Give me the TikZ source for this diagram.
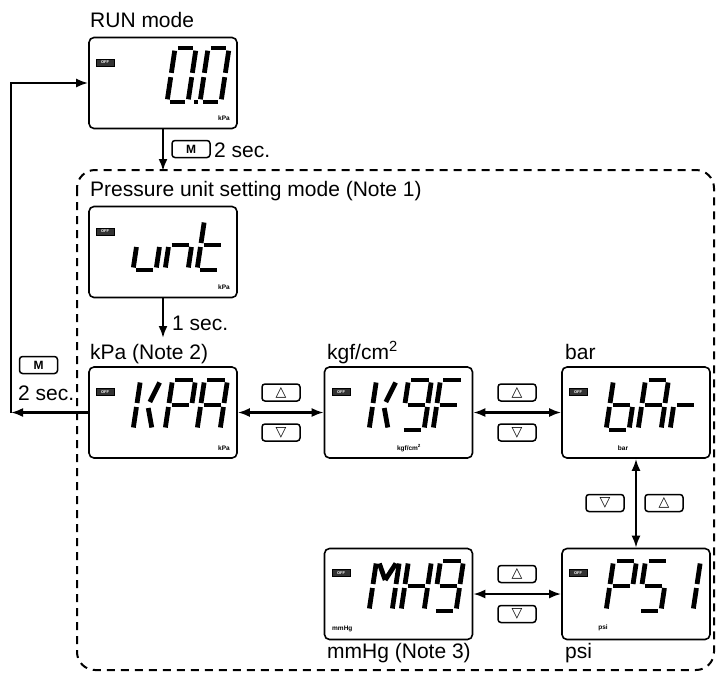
\documentclass[tikz,border=0pt]{standalone}
\usepackage{fontspec}
\setmainfont{Liberation Sans}
\newfontfamily\symfont{DejaVu Sans}
\usetikzlibrary{arrows.meta,positioning}

\tikzset{
  lcd/.style={draw, line width=1.6pt, rounded corners=5pt, minimum width=148pt, minimum height=91pt, inner sep=0pt},
  key/.style={draw, line width=1.5pt, rounded corners=3pt, minimum width=38pt, minimum height=17pt, inner sep=0pt, font=\fontsize{12}{13}\selectfont\bfseries},
  tri/.style={font=\fontsize{14}{14}\selectfont\symfont},
  lbl/.style={font=\fontsize{21}{24}\selectfont, inner sep=0pt, anchor=base west},
  unitlbl/.style={font=\fontsize{6.5}{7}\selectfont\bfseries, inner sep=0pt},
  offtag/.style={draw, line width=0.8pt, fill=black!80, text=white, font=\fontsize{4}{4}\selectfont\bfseries, inner sep=0pt, minimum width=18pt, minimum height=7pt},
  flow/.style={line width=2.2pt, -{Latex[length=12pt,width=9pt]}},
  both/.style={line width=2.2pt, {Latex[length=12pt,width=9pt]}-{Latex[length=12pt,width=9pt]}},
  segline/.style={line width=4.8pt},
}

% seven segment pieces, cell is 1 x 1 (v up)
\newcommand{\sega}{\draw[segline] (0.13,1) -- (0.87,1);}
\newcommand{\segb}{\draw[segline] (1,0.95) -- (1,0.54);}
\newcommand{\segc}{\draw[segline] (1,0.46) -- (1,0.05);}
\newcommand{\segd}{\draw[segline] (0.13,0) -- (0.87,0);}
\newcommand{\sege}{\draw[segline] (0,0.46) -- (0,0.05);}
\newcommand{\segf}{\draw[segline] (0,0.95) -- (0,0.54);}
\newcommand{\segg}{\draw[segline] (0.13,0.5) -- (0.87,0.5);}
\newcommand{\segp}{\draw[segline] (0.55,0.56) -- (0.85,0.95);}
\newcommand{\segq}{\draw[segline] (0.52,0.44) -- (0.8,0.05);}
\newcommand{\segm}{\draw[segline] (0.14,0.95) -- (0.5,0.62);}
\newcommand{\segn}{\draw[segline] (0.5,0.62) -- (0.86,0.95);}
% one display character: x, y (bottom left), width, height, segments
\newcommand{\lcdchar}[5]{%
  \begin{scope}[shift={(#1,#2)}, x=#3pt, y=#4pt, xslant=0.15]
    \foreach \s in {#5} {\csname seg\s\endcsname}
  \end{scope}}

\begin{document}
\begin{tikzpicture}[x=1pt, y=-1pt]
  \useasboundingbox (0,0) rectangle (719,678);
  % setting mode frame
  \draw[line width=2pt, dash pattern=on 8pt off 6pt, rounded corners=18pt] (77,170) rectangle (714,670);

  % displays
  \node[lcd] (run) at (163,83) {};
  \node[lcd] (unt) at (163,252) {};
  \node[lcd] (kpa) at (163,412.5) {};
  \node[lcd] (kgf) at (398.5,412.5) {};
  \node[lcd] (bar) at (636,412.5) {};
  \node[lcd] (mmhg) at (398.5,594) {};
  \node[lcd] (psi) at (636,594) {};

  % OFF tags
  \node[offtag] (runoff) at (105,62.5) {OFF};
  \node[offtag] (untoff) at (105,231.5) {OFF};
  \node[offtag] (kpaoff) at (105,392) {OFF};
  \node[offtag] (kgfoff) at (341,392) {OFF};
  \node[offtag] (baroff) at (578,392) {OFF};
  \node[offtag] (mmhgoff) at (341,573) {OFF};
  \node[offtag] (psioff) at (578,573) {OFF};

  % unit marks
  \node[unitlbl, anchor=base east] (rununit) at (230,120) {kPa};
  \node[unitlbl, anchor=base east] (untunit) at (230,289) {kPa};
  \node[unitlbl, anchor=base east] (kpaunit) at (230,450) {kPa};
  \node[unitlbl, anchor=base] (kgfunit) at (409,450) {kgf/cm\textsuperscript{2}};
  \node[unitlbl, anchor=base] (barunit) at (623,450) {bar};
  \node[unitlbl, anchor=base west] (mmhgunit) at (332,630) {mmHg};
  \node[unitlbl, anchor=base] (psiunit) at (603,629) {psi};

  % readings
  \lcdchar{167}{102}{21}{54}{a,b,c,d,e,f}
  \lcdchar{200}{102}{21}{54}{a,b,c,d,e,f}
  \fill (194,100) rectangle (198,104);
  \lcdchar{133}{270}{23}{50}{c,d,e}
  \lcdchar{165}{270}{23}{50}{c,e,g}
  \lcdchar{197}{270}{23}{50}{d,e,f,g}
  \lcdchar{133}{430}{23}{50}{e,f,p,q}
  \lcdchar{165}{430}{23}{50}{a,b,e,f,g}
  \lcdchar{197}{430}{23}{50}{a,b,c,e,f,g}
  \lcdchar{369}{430}{23}{50}{e,f,p,q}
  \lcdchar{401}{430}{23}{50}{a,b,c,d,f,g}
  \lcdchar{433}{430}{23}{50}{a,e,f,g}
  \lcdchar{606}{430}{23}{50}{c,d,e,f,g}
  \lcdchar{638}{430}{23}{50}{a,b,c,e,f,g}
  \lcdchar{670}{430}{23}{50}{e,g}
  \lcdchar{369}{611}{23}{50}{b,c,e,f,m,n}
  \lcdchar{401}{611}{23}{50}{b,c,e,f,g}
  \lcdchar{433}{611}{23}{50}{a,b,c,d,f,g}
  \lcdchar{606}{611}{23}{50}{a,b,e,f,g}
  \lcdchar{638}{611}{23}{50}{a,c,d,f,g}
  \lcdchar{670}{611}{23}{50}{b,c}

  % titles
  \node[lbl] (runtitle) at (90,27) {RUN mode};
  \node[lbl] (settitle) at (90,196) {Pressure unit setting mode (Note 1)};
  \node[lbl] (kpatitle) at (90,359) {kPa (Note 2)};
  \node[lbl] (kgftitle) at (327,359) {kgf/cm\textsuperscript{2}};
  \node[lbl] (bartitle) at (565,359) {bar};
  \node[lbl] (mmhgtitle) at (327,658) {mmHg (Note 3)};
  \node[lbl] (psititle) at (565,658) {psi};

  % into setting mode
  \coordinate (runin) at (163,171);
  \draw[flow] (run.south) -- (runin);
  \node[key] (mrun) at (191,149) {M};
  \node[lbl] (runsec) at (214,157) {2 sec.};
  \coordinate (untout) at (163,338);
  \draw[flow] (unt.south) -- (untout);
  \node[lbl] (untsec) at (172,330) {1 sec.};

  % back to RUN mode
  \coordinate (ret) at (11,412.5);
  \draw[flow] (kpa.west) -- (ret);
  \draw[flow] (ret) |- (run.west);
  \node[key] (mret) at (38.5,365) {M};
  \node[lbl] (retsec) at (18,400) {2 sec.};

  % unit cycle
  \draw[both] (kpa.east) -- (kgf.west);
  \node[key, tri] (up1) at (281,392.5) {△};
  \node[key, tri] (dn1) at (281,432.5) {▽};
  \draw[both] (kgf.east) -- (bar.west);
  \node[key, tri] (up2) at (517,392.5) {△};
  \node[key, tri] (dn2) at (517,432.5) {▽};
  \draw[both] (bar.south) -- (psi.north);
  \node[key, tri] (dn3) at (605,503) {▽};
  \node[key, tri] (up3) at (664,503) {△};
  \draw[both] (mmhg.east) -- (psi.west);
  \node[key, tri] (up4) at (517,574) {△};
  \node[key, tri] (dn4) at (517,614) {▽};
\end{tikzpicture}
\end{document}
